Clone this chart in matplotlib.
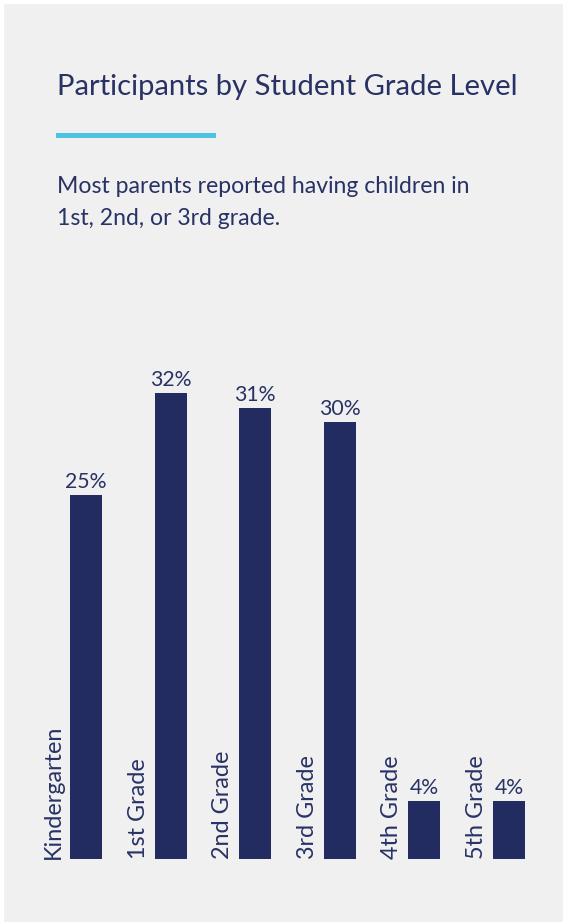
import matplotlib
matplotlib.use("Agg")
import matplotlib.pyplot as plt
from matplotlib.patches import Rectangle

categories = ["Kindergarten", "1st Grade", "2nd Grade", "3rd Grade", "4th Grade", "5th Grade"]
values = [25, 32, 31, 30, 4, 4]
value_labels = ["25%", "32%", "31%", "30%", "4%", "4%"]

title = "Participants by Student Grade Level"
subtitle = ["Most parents reported having children in", "1st, 2nd, or 3rd grade."]

W, H = 563, 922
BG = "#f0f0f0"
NAVY = "#232c61"
TEXT = "#283265"
CYAN = "#4dc3e2"
FONT = ["Lato", "DejaVu Sans"]

fig = plt.figure(figsize=(W / 100, H / 100), dpi=100)
fig.patch.set_facecolor(BG)

def fx(px):
    return px / W

def fy(py):
    return 1 - py / H

# thin white margin at top and left
fig.add_artist(Rectangle((0, fy(3)), 1, 3 / H, transform=fig.transFigure, color="white", zorder=0))
fig.add_artist(Rectangle((0, 0), 3 / W, 1, transform=fig.transFigure, color="white", zorder=0))

fig.text(fx(57), fy(94.5), title, fontsize=21.1, color=TEXT, family=FONT, va="baseline", ha="left")
fig.add_artist(Rectangle((fx(56), fy(138.5)), fx(216) - fx(56), 5.5 / H,
                         transform=fig.transFigure, color=CYAN, lw=0))
fig.text(fx(57), fy(193), subtitle[0], fontsize=16.6, color=TEXT, family=FONT, va="baseline", ha="left")
fig.text(fx(57), fy(225), subtitle[1], fontsize=16.6, color=TEXT, family=FONT, va="baseline", ha="left")

# axes: bottom at y=859 px, 14.56 px per percent
ax_left, ax_right = 30.2, 551.3
ax_bottom, ax_top = 859, 313
ax = fig.add_axes([fx(ax_left), fy(ax_bottom), fx(ax_right) - fx(ax_left), (ax_bottom - ax_top) / H])
ax.set_xlim(-0.66, 5.5)
ax.set_ylim(0, (ax_bottom - ax_top) / 14.56)
ax.set_facecolor(BG)
ax.patch.set_alpha(0)
for s in ax.spines.values():
    s.set_visible(False)
ax.set_xticks([])
ax.set_yticks([])

bw = 0.378
x = list(range(len(categories)))
ax.bar(x, values, width=bw, color=NAVY)

for i, (v, lab, cat) in enumerate(zip(values, value_labels, categories)):
    ax.annotate(lab, (i, v), xytext=(0, 7), textcoords="offset pixels",
                ha="center", va="baseline", fontsize=15.3, color=TEXT, family=FONT)
    ax.annotate(cat, (i - bw / 2, 0), xytext=(-6, 0), textcoords="offset pixels",
                ha="right", va="bottom", rotation=90, fontsize=16.8, color=TEXT, family=FONT)

fig.savefig("out.png", dpi=100, facecolor=BG)
